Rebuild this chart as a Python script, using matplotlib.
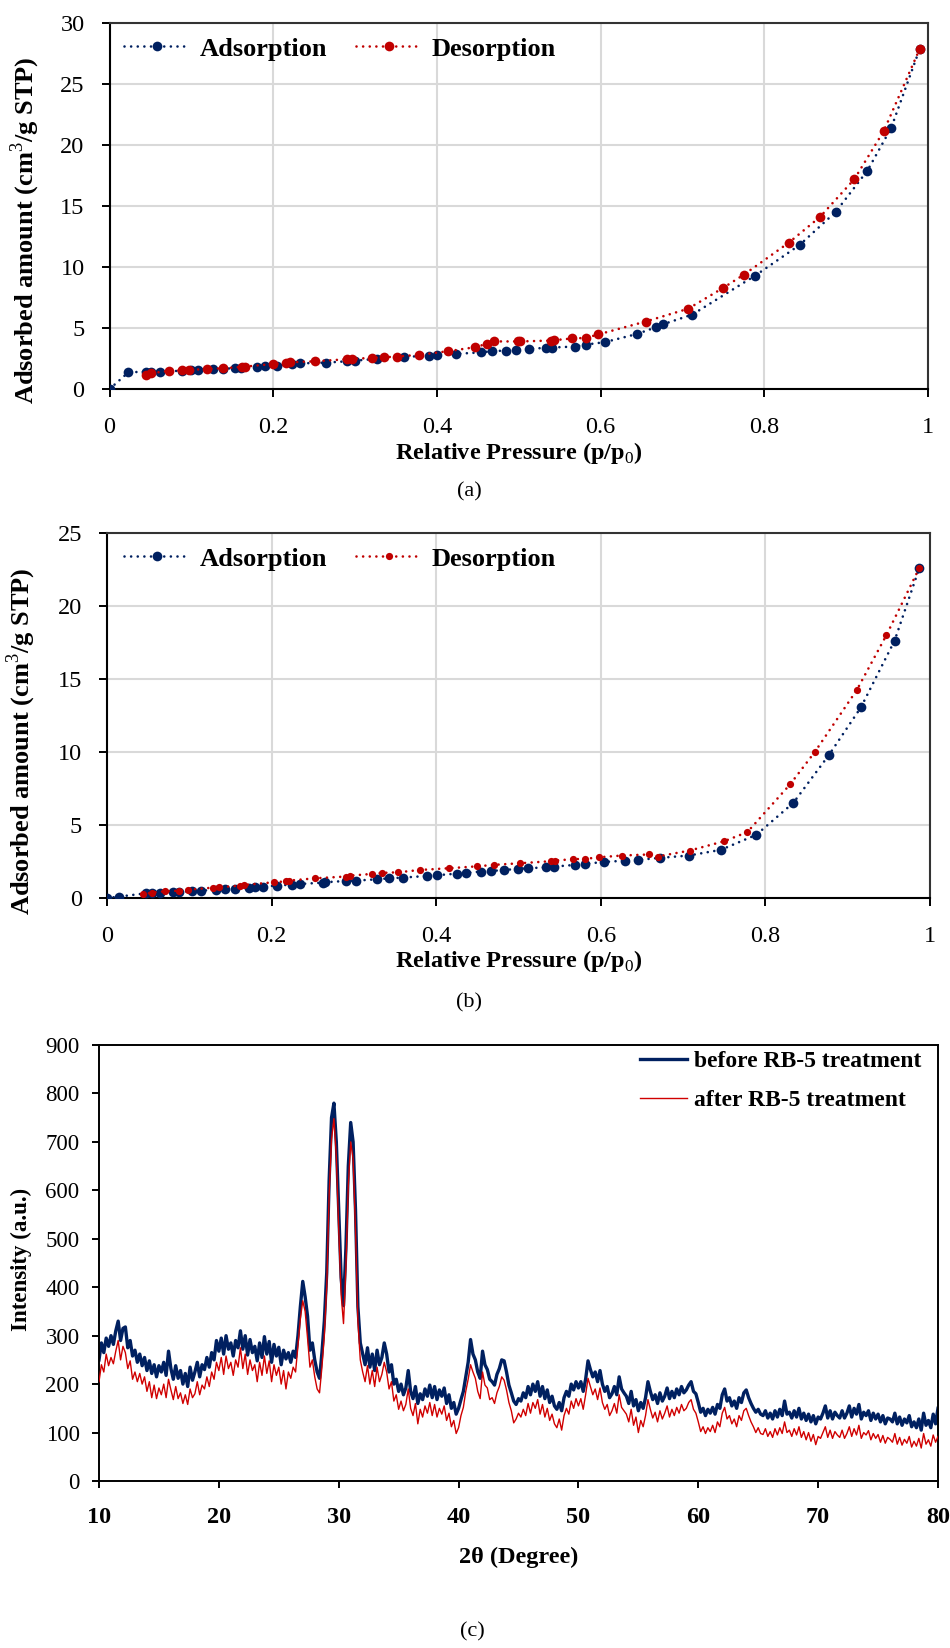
import numpy as np
import matplotlib
matplotlib.use("Agg")
import matplotlib.pyplot as plt
from matplotlib.lines import Line2D

plt.rcParams['font.family'] = ['Liberation Serif', 'DejaVu Serif']
plt.rcParams['mathtext.fontset'] = 'custom'
plt.rcParams['mathtext.rm'] = 'Liberation Serif'
plt.rcParams['mathtext.bf'] = 'Liberation Serif:bold'

BLUE = '#002060'
RED = '#C00000'

# ---------------- Panel (a) data ----------------
a_ads_x = [0, 0.023, 0.045, 0.05, 0.061, 0.089, 0.10, 0.108, 0.126, 0.138, 0.153, 0.16,
           0.18, 0.19, 0.205, 0.223, 0.233, 0.264, 0.29, 0.30, 0.327, 0.36, 0.39, 0.40,
           0.423, 0.454, 0.467, 0.484, 0.497, 0.513, 0.533, 0.54, 0.569, 0.582, 0.605,
           0.644, 0.668, 0.676, 0.712, 0.789, 0.843, 0.887, 0.926, 0.955, 0.99]
a_ads_y = [0, 1.37, 1.42, 1.42, 1.42, 1.50, 1.56, 1.59, 1.64, 1.67, 1.70, 1.75,
           1.80, 1.86, 1.92, 2.05, 2.10, 2.16, 2.27, 2.33, 2.47, 2.65, 2.70, 2.80,
           2.88, 3.00, 3.10, 3.15, 3.20, 3.30, 3.37, 3.40, 3.48, 3.64, 3.84,
           4.50, 5.07, 5.30, 6.10, 9.30, 11.8, 14.5, 17.9, 21.4, 27.9]

a_des_x = [0.99, 0.946, 0.91, 0.868, 0.83, 0.775, 0.75, 0.707, 0.655, 0.597, 0.582,
           0.565, 0.543, 0.539, 0.502, 0.499, 0.47, 0.461, 0.446, 0.414, 0.378, 0.351,
           0.335, 0.321, 0.296, 0.29, 0.251, 0.22, 0.216, 0.20, 0.166, 0.162, 0.138,
           0.119, 0.097, 0.088, 0.072, 0.05, 0.045]
a_des_y = [27.9, 21.15, 17.2, 14.1, 12.0, 9.37, 8.30, 6.58, 5.53, 4.47, 4.19,
           4.14, 4.00, 3.97, 3.90, 3.90, 3.90, 3.70, 3.42, 3.10, 2.80, 2.66,
           2.60, 2.55, 2.47, 2.44, 2.27, 2.19, 2.16, 2.05, 1.84, 1.81, 1.70,
           1.64, 1.56, 1.53, 1.48, 1.29, 1.18]

# ---------------- Panel (b) data ----------------
b_ads_x = [0, 0.014, 0.047, 0.055, 0.064, 0.08, 0.088, 0.103, 0.114, 0.132, 0.143, 0.155,
           0.173, 0.18, 0.19, 0.206, 0.225, 0.234, 0.262, 0.265, 0.291, 0.302, 0.328,
           0.343, 0.36, 0.389, 0.401, 0.425, 0.436, 0.454, 0.467, 0.482, 0.499, 0.512,
           0.534, 0.543, 0.569, 0.581, 0.604, 0.63, 0.645, 0.672, 0.707, 0.746, 0.789,
           0.834, 0.877, 0.916, 0.957, 0.987]
b_ads_y = [0, 0.09, 0.32, 0.32, 0.32, 0.39, 0.43, 0.46, 0.50, 0.57, 0.60, 0.62,
           0.69, 0.73, 0.78, 0.85, 0.92, 0.96, 1.05, 1.08, 1.17, 1.19, 1.28,
           1.35, 1.40, 1.51, 1.56, 1.67, 1.72, 1.81, 1.85, 1.92, 1.99, 2.04,
           2.10, 2.15, 2.27, 2.34, 2.47, 2.56, 2.61, 2.75, 2.91, 3.30, 4.33,
           6.52, 9.78, 13.05, 17.63, 22.6]

b_des_x = [0.987, 0.947, 0.911, 0.86, 0.83, 0.778, 0.75, 0.708, 0.669, 0.658, 0.626,
           0.598, 0.581, 0.566, 0.544, 0.539, 0.502, 0.47, 0.45, 0.416, 0.38, 0.354,
           0.334, 0.322, 0.295, 0.29, 0.253, 0.221, 0.218, 0.203, 0.166, 0.162, 0.136,
           0.129, 0.099, 0.088, 0.07, 0.055, 0.044]
b_des_y = [22.6, 18.0, 14.24, 10.0, 7.78, 4.51, 3.89, 3.25, 2.84, 2.98, 2.91,
           2.79, 2.68, 2.66, 2.56, 2.52, 2.38, 2.27, 2.17, 2.04, 1.92, 1.76,
           1.72, 1.65, 1.53, 1.47, 1.35, 1.19, 1.14, 1.08, 0.89, 0.85, 0.73,
           0.71, 0.57, 0.50, 0.46, 0.37, 0.25]

iso_xticks = [0, 0.2, 0.4, 0.6, 0.8, 1]
iso_xticklabels = ['0', '0.2', '0.4', '0.6', '0.8', '1']

# ---------------- Panel (c) data ----------------
two_theta_start, two_theta_stop, two_theta_step = 10.0, 80.0, 0.2
xrd_before = [
    250, 285, 265, 295, 278, 300, 282, 310, 330, 290,
    315, 318, 275, 290, 258, 270, 245, 262, 238, 255,
    228, 248, 222, 240, 215, 238, 225, 245, 218, 268,
    232, 210, 238, 212, 228, 200, 222, 195, 235, 208,
    225, 245, 215, 240, 230, 255, 235, 265, 250, 290,
    268, 295, 262, 300, 272, 285, 258, 290, 275, 310,
    272, 300, 260, 292, 265, 278, 248, 285, 255, 298,
    262, 288, 245, 282, 258, 276, 240, 270, 252, 265,
    245, 268, 255, 300, 360, 412, 380, 340, 270, 285,
    250, 225, 212, 265, 330, 430, 620, 750, 780, 700,
    560, 420, 362, 480, 650, 740, 700, 560, 360, 285,
    262, 240, 275, 235, 262, 228, 270, 240, 255, 285,
    262, 225, 240, 200, 210, 185, 200, 178, 192, 228,
    185, 170, 195, 160, 180, 168, 190, 175, 198, 172,
    195, 168, 188, 175, 192, 160, 178, 150, 162, 138,
    150, 168, 185, 215, 245, 292, 262, 250, 225, 212,
    268, 240, 230, 210, 205, 198, 220, 232, 250, 248,
    225, 198, 182, 165, 158, 170, 165, 182, 172, 195,
    178, 200, 185, 205, 175, 195, 170, 188, 162, 175,
    155, 148, 162, 145, 172, 185, 175, 200, 188, 205,
    192, 205, 185, 210, 248, 230, 215, 225, 205, 228,
    200, 185, 195, 172, 180, 195, 178, 215, 190, 182,
    175, 160, 185, 155, 168, 145, 162, 150, 172, 205,
    185, 168, 178, 160, 182, 165, 175, 192, 170, 185,
    172, 190, 178, 195, 182, 188, 198, 205, 185, 180,
    162, 142, 150, 135, 148, 140, 152, 138, 158, 150,
    178, 190, 165, 172, 155, 165, 150, 172, 162, 182,
    188, 172, 160, 150, 142, 148, 138, 135, 145, 130,
    140, 128, 145, 132, 148, 135, 165, 138, 142, 130,
    145, 132, 150, 128, 140, 125, 138, 122, 135, 118,
    132, 128, 140, 155, 130, 145, 128, 142, 135, 130,
    145, 130, 140, 155, 132, 150, 138, 158, 128, 142,
    135, 145, 125, 140, 128, 138, 122, 135, 118, 130,
    128, 122, 140, 118, 132, 115, 128, 120, 135, 112,
    122, 110, 128, 105, 140, 115, 125, 110, 138, 118,
    150]
xrd_after = [
    205, 240, 225, 262, 238, 255, 242, 268, 290, 250,
    278, 265, 232, 248, 210, 225, 205, 222, 200, 215,
    185, 205, 172, 198, 170, 192, 178, 200, 172, 210,
    188, 168, 195, 170, 182, 160, 178, 158, 190, 172,
    180, 205, 178, 198, 190, 215, 195, 225, 210, 245,
    228, 255, 220, 258, 232, 245, 218, 250, 235, 275,
    232, 262, 220, 250, 228, 240, 205, 245, 218, 258,
    222, 248, 205, 240, 218, 235, 200, 228, 190, 225,
    212, 235, 225, 280, 335, 372, 350, 295, 235, 250,
    215, 190, 182, 235, 300, 400, 590, 705, 748, 670,
    520, 385, 325, 440, 610, 700, 665, 520, 330, 250,
    225, 205, 238, 200, 228, 195, 235, 205, 220, 245,
    225, 190, 205, 165, 178, 148, 165, 145, 158, 190,
    150, 135, 160, 118, 148, 132, 155, 140, 162, 135,
    158, 132, 150, 138, 155, 125, 140, 112, 125, 98,
    110, 135, 152, 185, 210, 240, 225, 212, 185, 170,
    225, 198, 192, 168, 172, 160, 182, 195, 215, 208,
    188, 162, 145, 120, 128, 140, 132, 148, 135, 160,
    140, 162, 150, 168, 138, 158, 132, 150, 125, 138,
    118, 110, 128, 105, 135, 150, 138, 165, 150, 170,
    155, 170, 148, 178, 212, 195, 178, 190, 168, 192,
    162, 148, 158, 135, 145, 160, 140, 178, 152, 145,
    138, 122, 148, 115, 132, 100, 125, 112, 135, 168,
    148, 130, 142, 122, 145, 128, 140, 155, 132, 148,
    135, 152, 140, 158, 145, 150, 162, 168, 148, 140,
    122, 102, 112, 98, 110, 102, 115, 100, 122, 112,
    140, 152, 128, 135, 118, 128, 112, 135, 125, 145,
    150, 135, 122, 112, 100, 110, 98, 96, 108, 92,
    102, 90, 108, 95, 110, 98, 122, 100, 105, 92,
    108, 95, 112, 90, 102, 85, 100, 82, 96, 75,
    92, 88, 100, 112, 90, 105, 88, 102, 95, 90,
    105, 88, 98, 112, 92, 108, 95, 115, 88, 100,
    95, 104, 85, 98, 88, 96, 80, 94, 78, 90,
    86, 80, 98, 76, 90, 74, 86, 78, 92, 70,
    82, 72, 88, 68, 98, 76, 85, 72, 95, 80,
    92]
two_theta = np.round(np.arange(two_theta_start, two_theta_stop + 1e-6, two_theta_step), 1)

# ---------------- Figure ----------------
fig = plt.figure(figsize=(9.5, 16.48), dpi=100)

W, H = 950.0, 1648.0
def box(l, r, t, b):
    return [l / W, 1 - b / H, (r - l) / W, (b - t) / H]

dot = (0, (0.01, 2.5))
LW = 1.9

def iso_panel(ax, ads_x, ads_y, des_x, des_y, ymax, des_ms, legend_xy, ylab_xy, xlab_y):
    ax.plot(ads_x, ads_y, color=BLUE, linestyle=dot, linewidth=LW, dash_capstyle='round',
            marker='o', markersize=7, markeredgewidth=0, zorder=3)
    ax.plot(des_x, des_y, color=RED, linestyle=dot, linewidth=LW, dash_capstyle='round',
            marker='o', markersize=des_ms, markeredgewidth=0, zorder=4)
    ax.set_xlim(0, 1)
    ax.set_ylim(0, ymax)
    ax.set_xticks(iso_xticks)
    ax.set_xticklabels(iso_xticklabels)
    ax.set_yticks(np.arange(0, ymax + 1, 5))
    ax.grid(True, color='#D9D9D9', linewidth=1.5, zorder=0)
    ax.set_axisbelow(True)
    for s in ax.spines.values():
        s.set_color('black')
        s.set_linewidth(1.5)
    ax.spines['top'].set_color('#333333')
    ax.spines['right'].set_color('#333333')
    ax.tick_params(axis='both', direction='out', length=6, width=1.4, labelsize=17.5,
                   colors='black')
    ax.tick_params(axis='x', pad=14)
    ax.tick_params(axis='y', pad=12)
    ax.set_ylabel('Adsorbed amount (cm$^3$/g STP)', fontsize=19, fontweight='bold')
    ax.yaxis.set_label_coords(ylab_xy[0], ylab_xy[1])
    ax.set_xlabel('Relative Pressure (p/p$_0$)', fontsize=17.5, fontweight='bold')
    ax.xaxis.set_label_coords(0.5, xlab_y)
    h1 = Line2D([], [], color=BLUE, linestyle=dot, linewidth=LW, dash_capstyle='round',
                marker='o', markersize=7, markeredgewidth=0)
    h2 = Line2D([], [], color=RED, linestyle=dot, linewidth=LW, dash_capstyle='round',
                marker='o', markersize=des_ms, markeredgewidth=0)
    ax.legend([h1, h2], ['Adsorption', 'Desorption'], ncol=2, frameon=False,
              loc='center left', bbox_to_anchor=legend_xy, borderpad=0,
              borderaxespad=0, handlelength=2.5, handletextpad=0.35,
              columnspacing=1.1, prop={'size': 19, 'weight': 'bold'},
              markerscale=1.0, numpoints=1)

ax1 = fig.add_axes(box(109.6, 928, 23, 389))
iso_panel(ax1, a_ads_x, a_ads_y, a_des_x, a_des_y, 30, 7, (0.018, 0.929),
          (-0.083, 0.434), -0.139)

ax2 = fig.add_axes(box(107, 930, 533, 898))
iso_panel(ax2, b_ads_x, b_ads_y, b_des_x, b_des_y, 25, 5.2, (0.021, 0.929),
          (-0.084, 0.43), -0.137)

ax3 = fig.add_axes(box(99, 938, 1045, 1481))
ax3.plot(two_theta, xrd_before, color=BLUE, linewidth=2.4, label='before RB-5 treatment',
         zorder=2)
ax3.plot(two_theta, xrd_after, color='#D00000', linewidth=1.0, label='after RB-5 treatment',
         zorder=3)
ax3.set_xlim(10, 80)
ax3.set_ylim(0, 900)
ax3.set_xticks(np.arange(10, 81, 10))
ax3.set_yticks(np.arange(0, 901, 100))
for s in ax3.spines.values():
    s.set_color('black')
    s.set_linewidth(1.4)
ax3.tick_params(axis='both', direction='out', length=5, width=1.4, colors='black')
ax3.tick_params(axis='x', labelsize=17.5, pad=14)
ax3.tick_params(axis='y', labelsize=16.5, pad=9)
for lab in ax3.get_xticklabels():
    lab.set_fontweight('bold')
ax3.set_ylabel('Intensity (a.u.)', fontsize=16.5, fontweight='bold')
ax3.yaxis.set_label_coords(-0.08, 0.509)
ax3.set_xlabel('2θ (Degree)', fontsize=17.5, fontweight='bold')
ax3.xaxis.set_label_coords(0.5, -0.151)
ax3.legend(frameon=False, loc='center left', bbox_to_anchor=(0.645, 0.918),
           borderpad=0, borderaxespad=0, handlelength=2.0, handletextpad=0.3,
           labelspacing=0.75, prop={'size': 17, 'weight': 'bold'})

fig.text(469 / W, 1 - 492 / H, '(a)', ha='center', va='center', fontsize=16)
fig.text(469 / W, 1 - 1003 / H, '(b)', ha='center', va='center', fontsize=16)
fig.text(472 / W, 1 - 1632 / H, '(c)', ha='center', va='center', fontsize=16)

fig.savefig('out.png', dpi=100)
